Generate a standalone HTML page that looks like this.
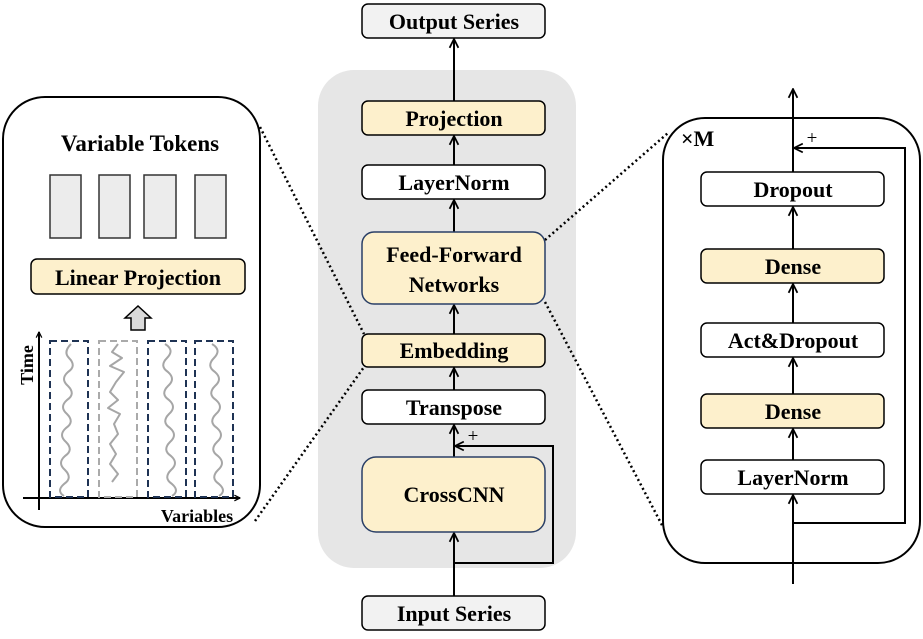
<!DOCTYPE html>
<html><head><meta charset="utf-8"><style>
html,body{margin:0;padding:0;background:#fff;}
svg text{font-family:"Liberation Serif",serif;font-weight:bold;}
</style></head><body>
<svg width="923" height="634" viewBox="0 0 923 634" xmlns="http://www.w3.org/2000/svg">
<defs>
<marker id="ah" viewBox="0 0 10 10" refX="9" refY="5" markerWidth="7" markerHeight="7" orient="auto" markerUnits="userSpaceOnUse">
<path d="M1,1 L9,5 L1,9" fill="none" stroke="#000" stroke-width="1.8"/>
</marker>
<marker id="ah2" viewBox="0 0 10 10" refX="9" refY="5" markerWidth="11" markerHeight="11" orient="auto" markerUnits="userSpaceOnUse">
<path d="M1,1 L9,5 L1,9" fill="none" stroke="#000" stroke-width="1.6"/>
</marker>
</defs>
<rect x="318" y="70" width="258" height="498" rx="36" fill="#e6e6e6"/>
<rect x="3" y="97" width="257" height="430" rx="42" fill="#fff" stroke="#000" stroke-width="2"/>
<rect x="663" y="118" width="257" height="445" rx="42" fill="#fff" stroke="#000" stroke-width="2"/>
<g stroke="#000" stroke-width="2.5" stroke-dasharray="2,3" fill="none">
<line x1="260" y1="127" x2="364" y2="334"/>
<line x1="255" y1="521" x2="364" y2="367"/>
<line x1="545" y1="240" x2="668" y2="133"/>
<line x1="545" y1="302" x2="663" y2="527"/>
</g>
<g stroke="#000" stroke-width="2" fill="none">
<line x1="454" y1="596" x2="454" y2="533" marker-end="url(#ah2)"/>
<line x1="454" y1="457" x2="454" y2="425" marker-end="url(#ah2)"/>
<polyline points="454,563 553,563 553,446 455,446" marker-end="url(#ah2)"/>
<line x1="454" y1="390" x2="454" y2="368" marker-end="url(#ah2)"/>
<line x1="454" y1="334" x2="454" y2="305" marker-end="url(#ah2)"/>
<line x1="454" y1="232" x2="454" y2="200" marker-end="url(#ah2)"/>
<line x1="454" y1="165" x2="454" y2="136" marker-end="url(#ah2)"/>
<line x1="454" y1="101" x2="454" y2="39" marker-end="url(#ah2)"/>
</g>
<text x="473" y="442" font-size="19" style="font-weight:normal" text-anchor="middle">+</text>
<g stroke="#000" stroke-width="1.5">
<rect x="362" y="4" width="183" height="34" rx="6" fill="#f2f2f2"/>
<rect x="362" y="101" width="183" height="34" rx="6" fill="#fdf0cc"/>
<rect x="362" y="165" width="183" height="34" rx="6" fill="#fff"/>
<rect x="362" y="232" width="183" height="72" rx="12" fill="#fdf0cc" stroke="#2a3f66"/>
<rect x="362" y="334" width="183" height="33" rx="6" fill="#fdf0cc"/>
<rect x="362" y="390" width="183" height="34" rx="6" fill="#fff"/>
<rect x="362" y="457" width="183" height="75" rx="14" fill="#fdf0cc" stroke="#2a3f66"/>
<rect x="362" y="596" width="183" height="34" rx="6" fill="#f2f2f2"/>
</g>
<g font-size="22" text-anchor="middle">
<text x="454" y="29">Output Series</text>
<text x="454" y="126">Projection</text>
<text x="454" y="190">LayerNorm</text>
<text x="454" y="262">Feed-Forward</text>
<text x="454" y="292">Networks</text>
<text x="454" y="358">Embedding</text>
<text x="454" y="415">Transpose</text>
<text x="454" y="502">CrossCNN</text>
<text x="454" y="621">Input Series</text>
</g>
<g stroke="#000" stroke-width="2" fill="none">
<line x1="793" y1="584" x2="793" y2="495" marker-end="url(#ah2)"/>
<polyline points="793,523 905,523 905,148 794,148" marker-end="url(#ah2)"/>
<line x1="793" y1="460" x2="793" y2="429" marker-end="url(#ah2)"/>
<line x1="793" y1="394" x2="793" y2="358" marker-end="url(#ah2)"/>
<line x1="793" y1="323" x2="793" y2="284" marker-end="url(#ah2)"/>
<line x1="793" y1="249" x2="793" y2="207" marker-end="url(#ah2)"/>
<line x1="793" y1="172" x2="793" y2="89" marker-end="url(#ah2)"/>
</g>
<text x="812" y="144" font-size="19" style="font-weight:normal" text-anchor="middle">+</text>
<text x="681" y="146" font-size="22">×M</text>
<g stroke="#000" stroke-width="1.5">
<rect x="701" y="172" width="183" height="34" rx="6" fill="#fff"/>
<rect x="701" y="249" width="183" height="34" rx="6" fill="#fdf0cc"/>
<rect x="701" y="323" width="183" height="34" rx="6" fill="#fff"/>
<rect x="701" y="394" width="183" height="34" rx="6" fill="#fdf0cc"/>
<rect x="701" y="460" width="183" height="34" rx="6" fill="#fff"/>
</g>
<g font-size="22" text-anchor="middle">
<text x="793" y="197">Dropout</text>
<text x="793" y="274">Dense</text>
<text x="793" y="348">Act&amp;Dropout</text>
<text x="793" y="419">Dense</text>
<text x="793" y="485">LayerNorm</text>
</g>
<text x="140" y="151" font-size="23" text-anchor="middle">Variable Tokens</text>
<g fill="#ececec" stroke="#333" stroke-width="1.5">
<rect x="50" y="175" width="31" height="63"/>
<rect x="99" y="175" width="31" height="63"/>
<rect x="144" y="175" width="32" height="63"/>
<rect x="195" y="175" width="31" height="63"/>
</g>
<rect x="31" y="259" width="214" height="35" rx="6" fill="#fdf0cc" stroke="#000" stroke-width="1.5"/>
<text x="138" y="285" font-size="22" text-anchor="middle">Linear Projection</text>
<path d="M131,330 L131,318 L125,318 L138,306 L151,318 L145,318 L145,330 Z" fill="#d9d9d9" stroke="#000" stroke-width="1.5"/>
<g stroke="#000" stroke-width="2" fill="none">
<line x1="39" y1="510" x2="39" y2="332" marker-end="url(#ah)"/>
<line x1="23" y1="498" x2="240" y2="498" marker-end="url(#ah)"/>
</g>
<g fill="none" stroke-width="2" stroke-dasharray="7,4">
<rect x="50" y="341" width="38" height="156" stroke="#1f3354"/>
<rect x="99" y="341" width="38" height="156" stroke="#aaa"/>
<rect x="148" y="341" width="38" height="156" stroke="#1f3354"/>
<rect x="195" y="341" width="38" height="156" stroke="#1f3354"/>
</g>
<g fill="none" stroke="#a6a6a6" stroke-width="2" stroke-linejoin="round">
<path d="M71,344 q-8,8 -2,14 q8,8 -1,14 q-8,7 0,14 q8,8 -1,14 q-8,7 0,14 q8,8 -1,14 q-8,7 0,14 q8,8 -1,14 q-8,7 0,14 q8,8 -1,14 q-8,7 0,12"/>
<path d="M118,344 l-6,8 l10,6 l-12,8 l14,6 l-8,10 l-6,10 l8,8 l-10,8 l12,6 l-6,10 l4,10 l-8,10 l6,10 l-6,10 l8,10 l-6,8"/>
<path d="M165,344 q10,6 2,14 q-8,8 1,14 q8,7 0,14 q-8,8 1,14 q8,7 0,14 q-8,8 1,14 q8,7 0,14 q-8,8 1,14 q8,7 0,14 q-8,8 1,14 q8,7 0,12"/>
<path d="M212,344 q10,6 2,14 q-8,8 1,14 q8,7 0,14 q-8,8 1,14 q8,7 0,14 q-8,8 1,14 q8,7 0,14 q-8,8 1,14 q8,7 0,14 q-8,8 1,14 q8,7 0,12"/>
</g>
<text x="33" y="365" font-size="18" text-anchor="middle" transform="rotate(-90 33 365)">Time</text>
<text x="197" y="522" font-size="18" text-anchor="middle">Variables</text>
</svg>
</body></html>
